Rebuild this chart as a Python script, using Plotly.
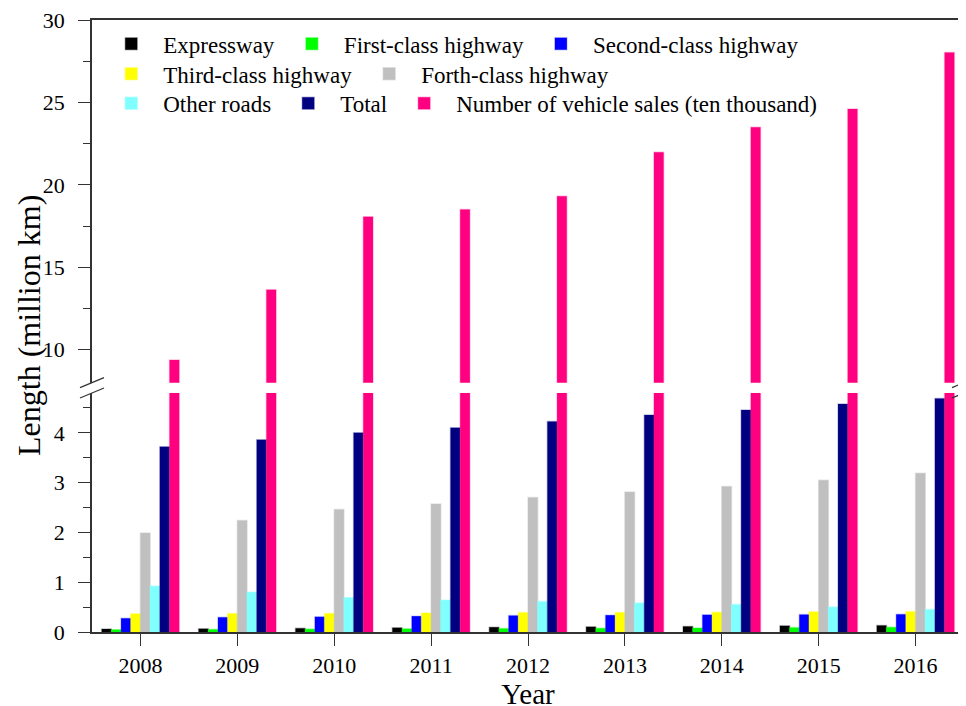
import plotly.graph_objects as go

years = ['2008', '2009', '2010', '2011', '2012', '2013', '2014', '2015', '2016']
expressway = [0.060, 0.065, 0.074, 0.085, 0.096, 0.104, 0.112, 0.124, 0.131]
first_class = [0.047, 0.052, 0.058, 0.064, 0.070, 0.075, 0.080, 0.088, 0.095]
second_class = [0.275, 0.295, 0.305, 0.318, 0.330, 0.338, 0.345, 0.350, 0.355]
third_class = [0.365, 0.370, 0.372, 0.380, 0.390, 0.392, 0.395, 0.405, 0.410]
forth_class = [1.99, 2.24, 2.46, 2.57, 2.70, 2.81, 2.92, 3.05, 3.19]
other_roads = [0.92, 0.80, 0.69, 0.64, 0.61, 0.58, 0.55, 0.50, 0.45]
total = [3.72, 3.86, 4.00, 4.10, 4.23, 4.36, 4.46, 4.58, 4.69]
vehicle_sales = [9.38, 13.64, 18.06, 18.51, 19.31, 21.98, 23.49, 24.60, 28.03]

series_names = ['Expressway', 'First-class highway', 'Second-class highway',
                'Third-class highway', 'Forth-class highway', 'Other roads',
                'Total', 'Number of vehicle sales (ten thousand)']
series_values = [expressway, first_class, second_class, third_class,
                 forth_class, other_roads, total, vehicle_sales]
colors = ['#000000', '#00FF00', '#0000FF', '#FFFF00', '#C0C0C0', '#80FFFF', '#000080', '#FF0080']
outline = ['rgba(0,0,0,0.25)', 'rgba(0,255,0,0.3)', 'rgba(0,0,255,0.2)', 'rgba(255,255,0,0.3)',
           'rgba(192,192,192,0.4)', 'rgba(128,255,255,0.4)', 'rgba(0,0,128,0.25)', 'rgba(255,0,128,0.25)']
legend_rows = ['legend', 'legend', 'legend', 'legend2', 'legend2', 'legend3', 'legend3', 'legend3']

FONT = 'Liberation Serif'

fig = go.Figure()
for name, vals, col, oc, lg in zip(series_names, series_values, colors, outline, legend_rows):
    fig.add_trace(go.Bar(x=years, y=vals, name=name, legendgroup=name, legend=lg,
                         marker=dict(color=col, line=dict(color=oc, width=1.5)),
                         xaxis='x', yaxis='y', showlegend=True))
    fig.add_trace(go.Bar(x=years, y=vals, name=name, legendgroup=name,
                         marker=dict(color=col, line=dict(color=oc, width=1.5)),
                         xaxis='x2', yaxis='y2', showlegend=False))

lower_top = 0.3905
upper_bottom = 0.4074
axis_col = '#333333'

common_y = dict(showline=True, linecolor=axis_col, linewidth=1.5, mirror=True,
                ticks='outside', ticklen=12, tickwidth=1.2, tickcolor=axis_col,
                showgrid=False, zeroline=False, automargin=False,
                tickfont=dict(family=FONT, size=22, color='black'),
                ticklabelstandoff=9, ticklabeloverflow='allow')

legend_common = dict(orientation='h', x=0.0083, xanchor='left', yanchor='middle',
                     bgcolor='rgba(0,0,0,0)', itemwidth=54,
                     font=dict(family=FONT, size=23, color='black'))

fig.update_layout(
    width=966, height=706,
    margin=dict(l=84, r=10, t=12, b=82),
    plot_bgcolor='white', paper_bgcolor='white',
    barmode='group', bargap=0.2, bargroupgap=0,
    font=dict(family=FONT, size=22, color='black'),
    xaxis=dict(type='category', range=[-0.5, 8.5], anchor='y',
               showline=True, linecolor=axis_col, linewidth=1.5,
               ticks='outside', ticklen=12, tickwidth=1.2, tickcolor=axis_col,
               showgrid=False, zeroline=False, automargin=False,
               tickfont=dict(family=FONT, size=22, color='black'),
               ticklabelstandoff=1,
               title=dict(text='Year', font=dict(family=FONT, size=29), standoff=0)),
    xaxis2=dict(type='category', range=[-0.5, 8.5], anchor='y2', matches='x',
                side='top', showline=True, linecolor=axis_col, linewidth=1.5,
                ticks='', showticklabels=False, showgrid=False, zeroline=False),
    yaxis=dict(domain=[0, lower_top], range=[0, 4.8], tick0=0, dtick=1,
               minor=dict(ticks='outside', ticklen=7, dtick=0.5, tickcolor=axis_col, tickwidth=1.2),
               **common_y),
    yaxis2=dict(domain=[upper_bottom, 1], range=[8, 30], tick0=0, dtick=5,
                minor=dict(ticks='outside', ticklen=7, dtick=2.5, tickcolor=axis_col, tickwidth=1.2),
                **common_y),
    legend=dict(y=0.961, **legend_common),
    legend2=dict(y=0.912, **legend_common),
    legend3=dict(y=0.864, **legend_common),
)

# y-axis title spanning both panels
fig.add_annotation(text='Length (million km)', xref='paper', yref='paper',
                   x=0, y=0.5, xanchor='center', yanchor='middle', xshift=-63,
                   textangle=-90, showarrow=False,
                   font=dict(family=FONT, size=32, color='black'))

# axis-break marks
for xa in (0, 1):
    for ya in (lower_top, upper_bottom):
        fig.add_shape(type='line', xref='paper', yref='paper',
                      xsizemode='pixel', xanchor=xa, x0=-12, x1=12,
                      ysizemode='pixel', yanchor=ya, y0=-5, y1=5,
                      line=dict(color=axis_col, width=1.2))

fig.write_html('out.html')
